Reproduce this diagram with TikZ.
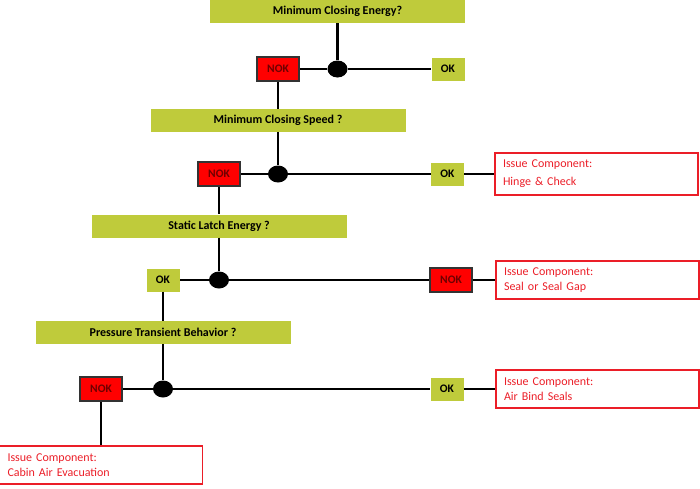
\documentclass[tikz,border=0pt]{standalone}
\usepackage{fontspec}
\setmainfont{Carlito}
\usetikzlibrary{positioning,shapes.geometric}
\definecolor{okgreen}{RGB}{191,203,59}
\definecolor{nokred}{RGB}{255,0,0}
\definecolor{noktext}{RGB}{110,0,0}
\definecolor{issuered}{RGB}{235,30,40}
\tikzset{
question/.style = {fill=okgreen, minimum width=255pt, minimum height=23pt,
                   inner sep=0pt, font=\fontsize{12}{14}\selectfont\bfseries},
okbox/.style   = {fill=okgreen, minimum width=33pt, minimum height=23pt,
                   inner sep=0pt, font=\fontsize{11.5}{13}\selectfont\bfseries},
nokbox/.style  = {draw=black!80, line width=1.5pt, fill=nokred, text=noktext,
                   minimum width=42pt, minimum height=24pt, inner sep=0pt,
                   font=\fontsize{11.5}{13}\selectfont\bfseries},
issue/.style   = {draw=issuered, line width=1.5pt, text=issuered, align=left,
                   text width=187pt, minimum width=203pt, minimum height=38pt,
                   inner xsep=8pt, inner ysep=0pt,
                   font=\fontsize{12}{14.5}\selectfont},
junct/.style   = {ellipse, fill=black, minimum width=20pt, minimum height=17pt,
                   inner sep=0pt},
link/.style    = {line width=2.8pt}
}

\begin{document}
\begin{tikzpicture}[auto, x=1pt, y=1pt]
    \useasboundingbox (0,0) rectangle (700,-488);

    \node [question, name=qenergy] at (337.5,-11.5) (qenergy) {Minimum Closing Energy?};
    \node [junct, below of=qenergy, node distance=57.5pt] (jenergy) {};
    \node [nokbox, left of=jenergy, node distance=59.5pt] (nokenergy) {NOK};
    \node [okbox, right of=jenergy, node distance=110.5pt] (okenergy) {OK};

    \node [question, below of=nokenergy, node distance=51.5pt] (qspeed) {Minimum Closing Speed ?};
    \node [junct, below of=qspeed, node distance=53.5pt] (jspeed) {};
    \node [nokbox, left of=jspeed, node distance=59pt] (nokspeed) {NOK};
    \node [okbox, right of=jspeed, node distance=169.5pt] (okspeed) {OK};
    \node [issue, minimum height=42pt, right of=okspeed, node distance=149pt] (hinge)
    {Issue Component:\\[3.5pt]Hinge \& Check};

    \node [question, below of=nokspeed, node distance=52pt] (qlatch) {Static Latch Energy ?};
    \node [junct, below of=qlatch, node distance=54pt] (jlatch) {};
    \node [okbox, left of=jlatch, node distance=56pt] (oklatch) {OK};
    \node [nokbox, right of=jlatch, node distance=232pt] (noklatch) {NOK};
    \node [issue, right of=noklatch, node distance=146.5pt] (seal)
    {Issue Component:\\Seal or Seal Gap};

    \node [question, below of=oklatch, node distance=52.5pt] (qpress) {Pressure Transient Behavior ?};
    \node [junct, below of=qpress, node distance=56.5pt] (jpress) {};
    \node [nokbox, left of=jpress, node distance=62pt] (nokpress) {NOK};
    \node [okbox, right of=jpress, node distance=284pt] (okpress) {OK};
    \node [issue, right of=okpress, node distance=150.5pt] (airbind)
    {Issue Component:\\Air Bind Seals};
    \node [issue, below of=nokpress, node distance=76pt] (cabin)
    {Issue Component:\\Cabin Air Evacuation};

    \draw [link] (qenergy) -- (jenergy);
    \draw [link] (jenergy) -- (nokenergy);
    \draw [link] (jenergy) -- (okenergy);
    \draw [link] (nokenergy) -- (qspeed);

    \draw [link] (qspeed) -- (jspeed);
    \draw [link] (jspeed) -- (nokspeed);
    \draw [link] (jspeed) -- (okspeed);
    \draw [link] (okspeed) -- (hinge);
    \draw [link] (nokspeed) -- (qlatch);

    \draw [link] (qlatch) -- (jlatch);
    \draw [link] (jlatch) -- (oklatch);
    \draw [link] (jlatch) -- (noklatch);
    \draw [link] (noklatch) -- (seal);
    \draw [link] (oklatch) -- (qpress);

    \draw [link] (qpress) -- (jpress);
    \draw [link] (jpress) -- (nokpress);
    \draw [link] (jpress) -- (okpress);
    \draw [link] (okpress) -- (airbind);
    \draw [link] (nokpress) -- (cabin);

\end{tikzpicture}
\end{document}
